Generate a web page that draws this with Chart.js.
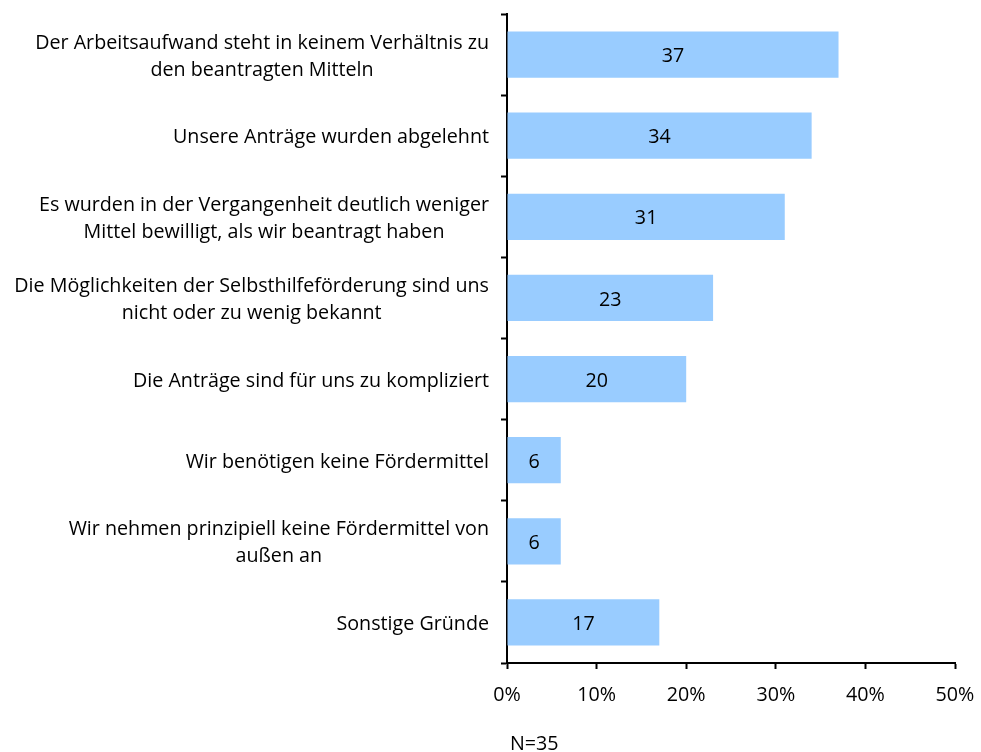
<!DOCTYPE html>
<html lang="de">
<head>
    <meta charset="utf-8">
    <title>Gründe gegen Fördermittel</title>
    <script src="https://cdn.jsdelivr.net/npm/chart.js"></script>
    <style>
        body { margin: 0; background: #fff; }
        #wrap { width: 981px; height: 752px; }
    </style>
</head>
<body>
    <div id="wrap">
        <canvas id="reasonsChart" width="981" height="752"></canvas>
    </div>

    <script>
        // data
        const categories = [
            ['Der Arbeitsaufwand steht in keinem Verhältnis zu', 'den beantragten Mitteln'],
            ['Unsere Anträge wurden abgelehnt'],
            ['Es wurden in der Vergangenheit deutlich weniger', 'Mittel bewilligt, als wir beantragt haben'],
            ['Die Möglichkeiten der Selbsthilfeförderung sind uns', 'nicht oder zu wenig bekannt'],
            ['Die Anträge sind für uns zu kompliziert'],
            ['Wir benötigen keine Fördermittel'],
            ['Wir nehmen prinzipiell keine Fördermittel von', 'außen an'],
            ['Sonstige Gründe']
        ];
        const percentValues = [37, 34, 31, 23, 20, 6, 6, 17];
        const xTicks = [0, 10, 20, 30, 40, 50];
        const sampleNote = 'N=35';

        const FONT = '"Open Sans", "Noto Sans", sans-serif';
        const FONT_SIZE = 19.7;

        // y labels (centred lines, right edge near axis), bar values, N note
        const textPlugin = {
            id: 'textPlugin',
            afterDatasetsDraw(chart) {
                const ctx = chart.ctx;
                const yScale = chart.scales.y;
                const xScale = chart.scales.x;
                const lineH = 27;
                const dy = 2;
                ctx.save();
                ctx.font = FONT_SIZE + 'px ' + FONT;
                ctx.fillStyle = '#000';
                ctx.textBaseline = 'middle';
                ctx.textAlign = 'center';

                categories.forEach((lines, i) => {
                    const cy = yScale.getPixelForValue(i) + dy;
                    const maxW = Math.max(...lines.map(l => ctx.measureText(l).width));
                    const cx = xScale.left - 18 - maxW / 2;
                    const y0 = cy - (lines.length - 1) * lineH / 2;
                    lines.forEach((l, k) => ctx.fillText(l, cx, y0 + k * lineH));
                });

                const meta = chart.getDatasetMeta(0);
                meta.data.forEach((bar, i) => {
                    const mid = (bar.base + bar.x) / 2;
                    ctx.fillText(String(percentValues[i]), mid, bar.y + dy);
                });

                ctx.textAlign = 'left';
                ctx.fillText(sampleNote, xScale.left + 3, 744);
                ctx.restore();
            }
        };

        new Chart(document.getElementById('reasonsChart'), {
            type: 'bar',
            data: {
                labels: categories,
                datasets: [{
                    data: percentValues,
                    backgroundColor: '#99CCFF',
                    borderWidth: 0,
                    barPercentage: 0.57,
                    categoryPercentage: 1
                }]
            },
            options: {
                indexAxis: 'y',
                responsive: false,
                animation: false,
                layout: { padding: { left: 501, top: 14, right: 26, bottom: 0 } },
                scales: {
                    x: {
                        min: 0,
                        max: 50,
                        afterBuildTicks: (s) => { s.ticks = xTicks.map(v => ({ value: v })); },
                        afterFit: (s) => { s.height = 89; s.paddingLeft = 0; s.paddingRight = 0; },
                        grid: { drawOnChartArea: false, tickLength: 6, tickWidth: 2, color: '#000' },
                        border: { color: '#000', width: 2 },
                        ticks: {
                            padding: 15,
                            maxRotation: 0,
                            color: '#000',
                            font: { family: FONT, size: FONT_SIZE },
                            callback: (v) => v + '%'
                        }
                    },
                    y: {
                        offset: true,
                        grid: { offset: true, drawOnChartArea: false, tickLength: 6, tickWidth: 2, color: '#000' },
                        border: { color: '#000', width: 2 },
                        ticks: { display: false }
                    }
                },
                plugins: {
                    legend: { display: false },
                    tooltip: { enabled: false }
                }
            },
            plugins: [textPlugin]
        });
    </script>
</body>
</html>
